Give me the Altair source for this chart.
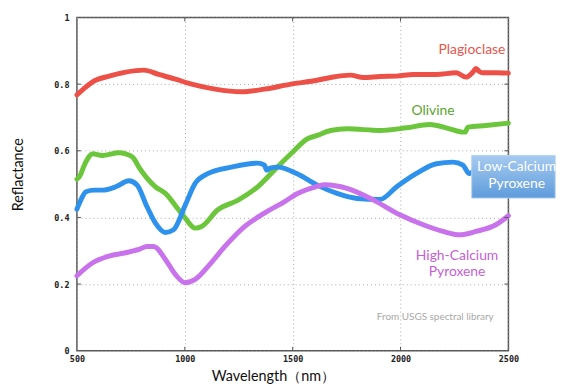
import altair as alt
import pandas as pd

# ---- data ----
names = ["Plagioclase", "Olivine", "Low-Calcium Pyroxene", "High-Calcium Pyroxene"]
line_colors = ["#EC5046", "#6CC63C", "#2E92EC", "#C872EC"]

plag_w = [500, 530, 573, 649, 726, 810, 879, 956, 1032, 1140, 1262, 1369, 1492, 1599,
          1676, 1767, 1829, 1905, 1982, 2059, 2166, 2258, 2304, 2335, 2350, 2365, 2380, 2440, 2500]
plag_v = [0.768, 0.785, 0.807, 0.824, 0.836, 0.842, 0.829, 0.815, 0.800, 0.785, 0.777, 0.785,
          0.800, 0.810, 0.820, 0.827, 0.820, 0.823, 0.824, 0.829, 0.829, 0.834, 0.821, 0.836,
          0.847, 0.838, 0.834, 0.834, 0.833]

oliv_w = [500, 511, 540, 573, 617, 695, 726, 760, 787, 864, 910, 971, 1002, 1048, 1078, 1153,
          1247, 1338, 1415, 1492, 1569, 1614, 1676, 1752, 1905, 2028, 2135, 2227, 2289, 2300,
          2312, 2396, 2500]
oliv_v = [0.515, 0.522, 0.565, 0.591, 0.586, 0.594, 0.591, 0.580, 0.551, 0.492, 0.472, 0.423,
          0.398, 0.368, 0.373, 0.423, 0.452, 0.492, 0.542, 0.591, 0.636, 0.646, 0.661, 0.666,
          0.661, 0.669, 0.679, 0.666, 0.656, 0.656, 0.671, 0.676, 0.683]

lowc_w = [500, 520, 542, 580, 619, 680, 741, 779, 825, 864, 910, 948, 1002, 1048, 1109, 1216,
          1338, 1369, 1380, 1395, 1431, 1523, 1614, 1706, 1798, 1905, 1982, 2074, 2166, 2243,
          2289, 2319, 2340]
lowc_v = [0.425, 0.455, 0.477, 0.482, 0.482, 0.492, 0.510, 0.497, 0.432, 0.383, 0.355, 0.363,
          0.437, 0.502, 0.532, 0.551, 0.563, 0.557, 0.542, 0.548, 0.551, 0.530, 0.497, 0.472,
          0.457, 0.454, 0.492, 0.532, 0.561, 0.566, 0.557, 0.532, 0.540]

high_w = [500, 573, 649, 726, 787, 825, 856, 910, 956, 1002, 1048, 1109, 1186, 1278, 1369,
          1461, 1523, 1607, 1650, 1752, 1875, 1997, 2105, 2197, 2273, 2350, 2442, 2500]
high_v = [0.225, 0.264, 0.284, 0.294, 0.304, 0.313, 0.313, 0.274, 0.229, 0.204, 0.214, 0.254,
          0.313, 0.373, 0.413, 0.447, 0.472, 0.492, 0.498, 0.487, 0.452, 0.408, 0.378, 0.358,
          0.348, 0.358, 0.378, 0.405]

x_ticks = [500, 1000, 1500, 2000, 2500]
y_ticks = [0, 0.2, 0.4, 0.6, 0.8, 1]

label_text = ["Plagioclase", "Olivine", "High-Calcium", "Pyroxene", "Low-Calcium", "Pyroxene"]
label_w = [2331, 2151, 2262, 2262, 2538, 2538]
label_v = [0.902, 0.720, 0.284, 0.235, 0.551, 0.500]
label_color = ["#E8564C", "#5AA52E", "#C45FD6", "#C45FD6", "#FFFFFF", "#FFFFFF"]

box_w = [2330, 2717]
box_v = [0.586, 0.458]

note_text = ["From USGS spectral library"]
note_w = [2161]
note_v = [0.101]

# ---- tables ----
rows = []
for name, ws, vs in zip(names, [plag_w, oliv_w, lowc_w, high_w], [plag_v, oliv_v, lowc_v, high_v]):
    for w, v in zip(ws, vs):
        rows.append({"mineral": name, "w": w, "v": v})
df = pd.DataFrame(rows)
labels = pd.DataFrame({"t": label_text, "w": label_w, "v": label_v, "c": label_color})
box = pd.DataFrame({"w": [box_w[0]], "w2": [box_w[1]], "v": [box_v[0]], "v2": [box_v[1]]})
note = pd.DataFrame({"t": note_text, "w": note_w, "v": note_v})

# inward tick marks on all four sides, built from the tick lists
xt = pd.DataFrame({"w": x_ticks[1:-1]})
yt = pd.DataFrame({"v": y_ticks[1:-1]})

x_scale = alt.Scale(domain=[500, 2500], nice=False, zero=False)
y_scale = alt.Scale(domain=[0, 1], nice=False)

tick_font = "DejaVu Sans Mono"

lines = alt.Chart(df).mark_line(strokeWidth=5, interpolate="monotone", strokeCap="round").encode(
    x=alt.X("w:Q", scale=x_scale, axis=alt.Axis(
        values=x_ticks, title="Wavelength（nm）", format="d", labelFlush=False,
        labelFont=tick_font, labelFontWeight="bold", labelFontSize=8.5, labelColor="#222",
        labelPadding=4, ticks=False, domain=False,
        grid=True, gridDash=[1, 3], gridColor="#AAAAAA", gridWidth=1,
        titleFont="Lato", titleFontSize=14.5, titleFontWeight="normal", titleColor="#111",
        titleX=197.5, titleY=30, titleBaseline="alphabetic", titleAnchor="start", titleAlign="center")),
    y=alt.Y("v:Q", scale=y_scale, axis=alt.Axis(
        values=y_ticks, title="Reflactance", format=".1~f", labelFlush=False,
        labelFont=tick_font, labelFontWeight="bold", labelFontSize=8.5, labelColor="#222",
        labelPadding=8, ticks=False, domain=False,
        grid=True, gridDash=[1, 3], gridColor="#AAAAAA", gridWidth=1,
        titleFont="Lato", titleFontSize=14.5, titleFontWeight="normal", titleColor="#111",
        titleX=-58.5, titleY=158, titleBaseline="middle", titleAlign="center", titleAngle=270)),
    color=alt.Color("mineral:N", scale=alt.Scale(domain=names, range=line_colors), legend=None),
)

tick_style = dict(color="#555555", strokeWidth=1)
top_ticks = alt.Chart(xt).mark_rule(**tick_style).encode(
    x=alt.X("w:Q", scale=x_scale), y=alt.value(0), y2=alt.value(4))
bot_ticks = alt.Chart(xt).mark_rule(**tick_style).encode(
    x=alt.X("w:Q", scale=x_scale), y=alt.value(336), y2=alt.value(332))
left_ticks = alt.Chart(yt).mark_rule(**tick_style).encode(
    y=alt.Y("v:Q", scale=y_scale), x=alt.value(0), x2=alt.value(4))
right_ticks = alt.Chart(yt).mark_rule(**tick_style).encode(
    y=alt.Y("v:Q", scale=y_scale), x=alt.value(435), x2=alt.value(431))

grad = alt.LinearGradient(
    gradient="linear",
    stops=[alt.GradientStop(color="#A6CAF0", offset=0), alt.GradientStop(color="#5E9CDC", offset=1)],
    x1=0, x2=0, y1=0, y2=1,
)
rect = alt.Chart(box).mark_rect(color=grad, stroke="#B5D2F2", strokeWidth=1).encode(
    x=alt.X("w:Q", scale=x_scale), x2="w2:Q",
    y=alt.Y("v:Q", scale=y_scale), y2="v2:Q",
)

texts = alt.Chart(labels).mark_text(font="Lato", fontSize=14, baseline="middle", align="center").encode(
    x=alt.X("w:Q", scale=x_scale), y=alt.Y("v:Q", scale=y_scale), text="t:N",
    color=alt.Color("c:N", scale=None),
)

note_mark = alt.Chart(note).mark_text(font="Lato", fontSize=10, color="#A8A8A8", baseline="middle",
                                      align="center").encode(
    x=alt.X("w:Q", scale=x_scale), y=alt.Y("v:Q", scale=y_scale), text="t:N",
)

chart = alt.layer(lines, top_ticks, bot_ticks, left_ticks, right_ticks, rect, texts, note_mark).properties(
    width=435, height=336,
    autosize=alt.AutoSizeParams(type="none"),
    padding={"left": 69.5, "top": 8, "right": 48, "bottom": 36},
).configure_view(stroke="#555555", strokeWidth=1.5)

chart.save("out.html", embed_options={"renderer": "svg", "actions": False})
